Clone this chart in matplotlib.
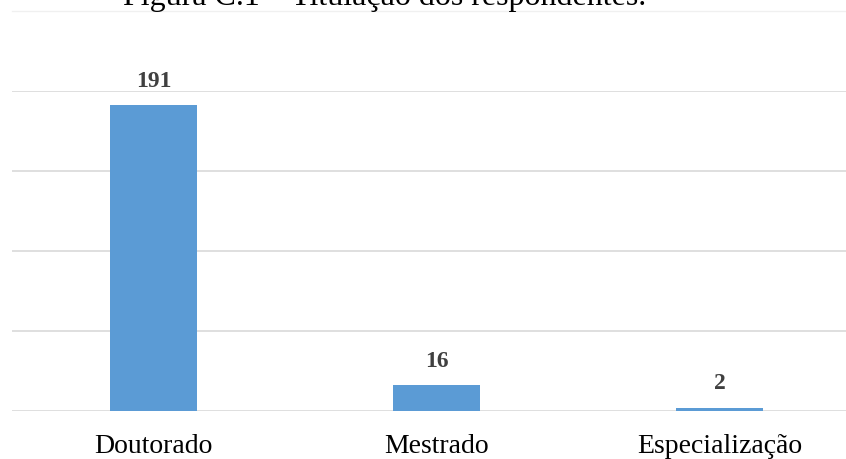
import matplotlib
matplotlib.use("Agg")
import matplotlib.pyplot as plt
from matplotlib.lines import Line2D

categories = ["Doutorado", "Mestrado", "Especialização"]
values = [191, 16, 2]
grid_ticks = [0, 50, 100, 150, 200]
title = "Figura C.1 – Titulação dos respondentes."

W, H = 846, 459
fig = plt.figure(figsize=(W / 100, H / 100), dpi=100)
fig.patch.set_facecolor("white")

ax = fig.add_axes([12 / W, 48 / H, 1 - 12 / W, 320 / H])
ax.set_facecolor("white")

x = range(len(categories))
ax.bar(x, values, width=0.31, color="#5b9bd5", zorder=3)

ax.set_xlim(-0.5, -0.5 + 834 / 283)
ax.set_ylim(0, 200)
ax.set_yticks(grid_ticks)
ax.yaxis.grid(True, color="#d9d9d9", linewidth=1.2, zorder=0)
ax.set_axisbelow(True)
ax.tick_params(axis="y", left=False, labelleft=False)
ax.tick_params(axis="x", bottom=False, pad=13)
ax.set_xticks(list(x))
ax.set_xticklabels(categories, fontsize=20, family="Liberation Serif", color="black")
for s in ax.spines.values():
    s.set_visible(False)

for xi, v in zip(x, values):
    ax.annotate(str(v), (xi, v), xytext=(0, 10), textcoords="offset points",
                ha="center", va="bottom", fontsize=17, fontweight="bold",
                family="Liberation Serif", color="#404040")

# faint rule under the caption
fig.add_artist(Line2D([12 / W, 1], [1 - 11 / H, 1 - 11 / H], color="#f0f0f0",
                      linewidth=1, transform=fig.transFigure))

fig.text(385 / W, 1 - 4.5 / H, title, ha="center", va="baseline",
         fontsize=23, family="Liberation Serif", color="black")

fig.savefig("out.png", dpi=100)
